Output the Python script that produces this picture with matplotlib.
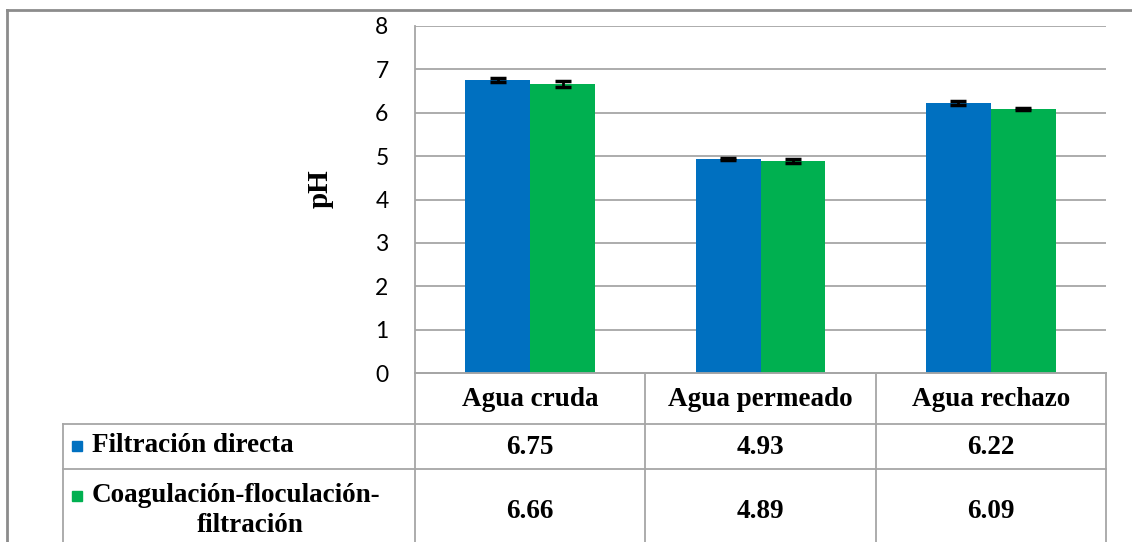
"""pH por tipo de agua y tratamiento: barras con tabla de datos"""
import numpy as np
import matplotlib
matplotlib.use('Agg')
import matplotlib.pyplot as plt
import matplotlib.transforms as mtransforms

categories = ['Agua cruda', 'Agua permeado', 'Agua rechazo']
series_names = ['Filtración directa', 'Coagulación-floculación-\nfiltración']
ph_directa = [6.75, 4.93, 6.22]
ph_coag = [6.66, 4.89, 6.09]
err_directa = [0.05, 0.03, 0.05]
err_coag = [0.07, 0.04, 0.02]

BLUE = '#0070C0'
GREEN = '#00B050'
GRID = '#A6A6A6'
W, H = 1132, 542

fig = plt.figure(figsize=(W / 100, H / 100), dpi=100)
fig.patch.set_facecolor('white')

# background layer in pixel coordinates (frame + table)
bg = fig.add_axes([0, 0, 1, 1], zorder=0)
bg.set_xlim(0, W)
bg.set_ylim(H, 0)
bg.axis('off')

# plot area
left, right, top, bottom = 415, 1106, 26, 373
ax = fig.add_axes([left / W, 1 - bottom / H, (right - left) / W, (bottom - top) / H], zorder=1)
ax.patch.set_alpha(0)

x = np.arange(len(categories))
bw = 0.282
ax.bar(x - bw / 2, ph_directa, bw, color=BLUE, zorder=2)
ax.bar(x + bw / 2, ph_coag, bw, color=GREEN, zorder=2)
ax.errorbar(x - bw / 2, ph_directa, yerr=err_directa, fmt='none', ecolor='black',
            elinewidth=2, capsize=6, capthick=2.5, zorder=3)
ax.errorbar(x + bw / 2, ph_coag, yerr=err_coag, fmt='none', ecolor='black',
            elinewidth=2, capsize=6, capthick=2.5, zorder=3)

ax.set_xlim(-0.5, len(categories) - 0.5)
ax.set_ylim(0, 8)
ax.set_yticks(range(0, 9))
ax.set_xticks([])
ax.grid(axis='y', color=GRID, linewidth=1.3, zorder=0)
ax.set_axisbelow(True)
for s in ['top', 'right']:
    ax.spines[s].set_visible(False)
for s in ['left', 'bottom']:
    ax.spines[s].set_color(GRID)
    ax.spines[s].set_linewidth(1.3)
ax.tick_params(axis='y', length=0, pad=19, labelsize=16.5)
for lab in ax.get_yticklabels():
    lab.set_family('Lato')
ax.set_ylabel('pH', family='Liberation Serif', fontweight='bold', fontsize=21)
ax.yaxis.set_label_coords(-0.118, 0.53)

# outer chart frame
bg.plot([7, W + 5], [10, 10], color='#8C8C8C', lw=2)
bg.plot([7, 7], [10, H + 5], color='#8C8C8C', lw=2)

# data table below the chart, columns aligned with categories
trans = mtransforms.blended_transform_factory(ax.transData, bg.transData)
tl = '#A6A6A6'
hdr_bot, row1_bot = 424, 469
tab_left = 63
n = len(categories)
# vertical lines between categories
for b in np.arange(n + 1) - 0.5:
    bg.plot([b, b], [bottom, H + 5], color=tl, lw=1.3, transform=trans)
bg.plot([tab_left, tab_left], [hdr_bot, H + 5], color=tl, lw=1.3)
# horizontal lines
bg.plot([-0.5, n - 0.5], [bottom, bottom], color=tl, lw=1.3, transform=trans)
bg.plot([tab_left, right], [hdr_bot, hdr_bot], color=tl, lw=1.3)
bg.plot([tab_left, right], [row1_bot, row1_bot], color=tl, lw=1.3)

serif = dict(family='Liberation Serif', fontweight='bold', fontsize=19.5, color='black')
for i, cat in enumerate(categories):
    bg.text(i, 399, cat, ha='center', va='center', transform=trans, **serif)
    bg.text(i, 447, f'{ph_directa[i]:.2f}', ha='center', va='center', transform=trans, **serif)
    bg.text(i, 512, f'{ph_coag[i]:.2f}', ha='center', va='center', transform=trans, **serif)

# row labels with legend keys
bg.add_patch(plt.Rectangle((72, 441), 10, 10, color=BLUE))
bg.text(92, 446, series_names[0], ha='left', va='center', **serif)
line1, line2 = series_names[1].split('\n')
bg.add_patch(plt.Rectangle((72, 491), 10, 10, color=GREEN))
bg.text(92, 496, line1, ha='left', va='center', **serif)
bg.text(250, 526, line2, ha='center', va='center', **serif)

fig.savefig('out.png', dpi=100, facecolor='white')
plt.close(fig)
